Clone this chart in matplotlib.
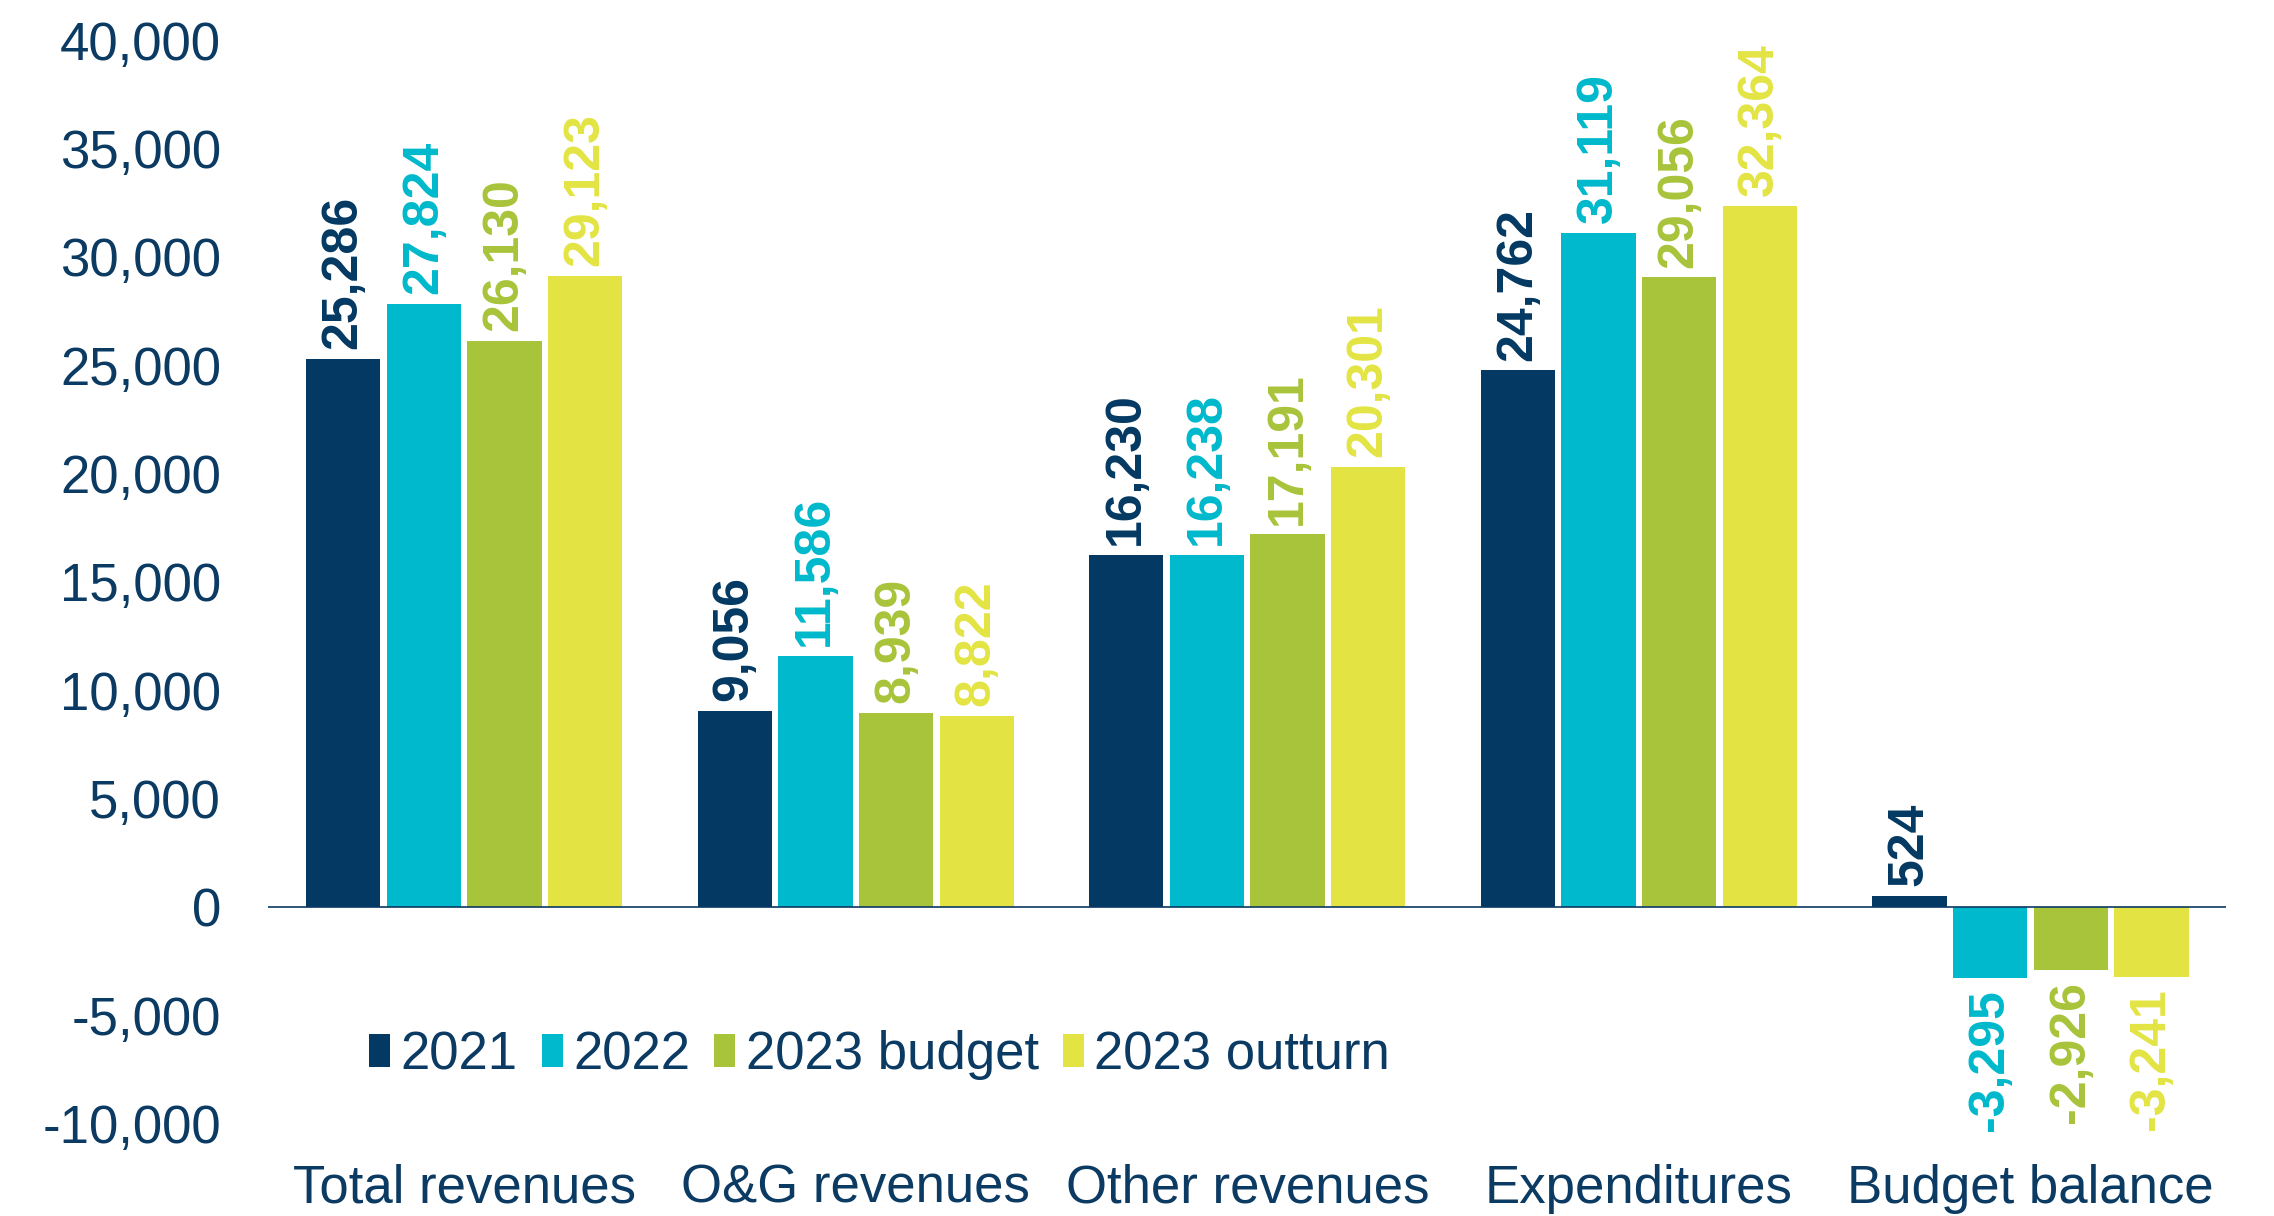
import matplotlib
matplotlib.use('Agg')
import matplotlib.pyplot as plt
import numpy as np

# data
categories = ['Total revenues', 'O&G revenues', 'Other revenues', 'Expenditures', 'Budget balance']
series_names = ['2021', '2022', '2023 budget', '2023 outturn']
v2021 = [25286, 9056, 16230, 24762, 524]
v2022 = [27824, 11586, 16238, 31119, -3295]
v2023_budget = [26130, 8939, 17191, 29056, -2926]
v2023_outturn = [29123, 8822, 20301, 32364, -3241]
yticks = [-10000, -5000, 0, 5000, 10000, 15000, 20000, 25000, 30000, 35000, 40000]

colors = ['#033962', '#00B9CC', '#A8C43A', '#E3E443']
navy = '#0B3A63'

plt.rcParams['font.family'] = ['Liberation Sans', 'DejaVu Sans']

fig = plt.figure(figsize=(22.74, 12.16), dpi=100)
ax = fig.add_axes([0.118, 0.076, 0.861, 0.891])

x = np.arange(len(categories))
pitch = 0.206
width = 0.19
all_vals = [v2021, v2022, v2023_budget, v2023_outturn]

for i, vals in enumerate(all_vals):
    pos = x + (i - 1.5) * pitch
    bars = ax.bar(pos, vals, width=width, color=colors[i], label=series_names[i], zorder=2)
    for b, v in zip(bars, vals):
        cx = b.get_x() + b.get_width() / 2
        txt = '{:,}'.format(v)
        if v >= 0:
            ax.annotate(txt, (cx, v), xytext=(0, 7), textcoords='offset points',
                        rotation=90, ha='center', va='bottom', fontsize=36,
                        fontweight='bold', color=colors[i])
        else:
            ax.annotate(txt, (cx, v), xytext=(0, -8), textcoords='offset points',
                        rotation=90, ha='center', va='top', fontsize=36,
                        fontweight='bold', color=colors[i])

ax.axhline(0, color=navy, linewidth=1.2, zorder=3)

ax.set_xlim(-0.5, 4.5)
ax.set_ylim(-10000, 40000)
ax.set_yticks(yticks)
ax.set_yticklabels(['{:,}'.format(t) for t in yticks])
ax.set_xticks(x)
ax.set_xticklabels(categories)
ax.tick_params(axis='y', length=0, pad=34, labelsize=38, labelcolor=navy)
ax.tick_params(axis='x', length=0, pad=29, labelsize=38, labelcolor=navy)
for s in ax.spines.values():
    s.set_visible(False)

ax.legend(loc='center left', bbox_to_anchor=(0.038, 0.063), ncol=4, frameon=False,
          fontsize=38, handlelength=0.4, handleheight=0.6, handletextpad=0.2,
          columnspacing=0.45, borderpad=0, labelcolor=navy)

fig.savefig('out.png', dpi=100)
